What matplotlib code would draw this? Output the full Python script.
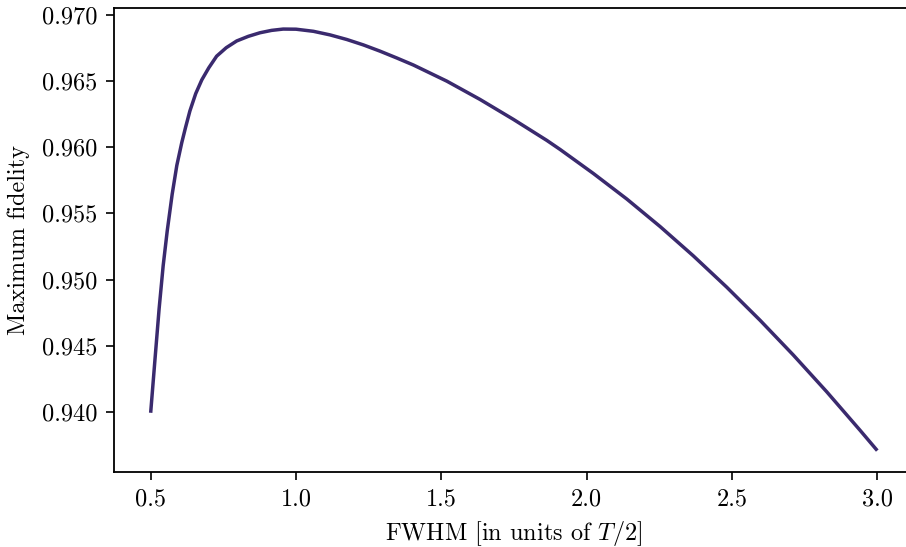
import numpy as np
import matplotlib
matplotlib.use("Agg")
import matplotlib.pyplot as plt

# Werte
fwhm = [0.500, 0.515, 0.529, 0.543, 0.557, 0.574, 0.590, 0.607, 0.620, 0.635,
        0.655, 0.676, 0.700, 0.727, 0.760, 0.796, 0.836, 0.876, 0.916, 0.956,
        1.000, 1.060, 1.117, 1.175, 1.232, 1.289, 1.346, 1.404, 1.519, 1.633,
        1.748, 1.863, 1.909, 2.023, 2.138, 2.253, 2.367, 2.482, 2.597, 2.711,
        2.826, 2.941, 3.000]
fidelity = [0.93992, 0.94400, 0.94777, 0.95104, 0.95368, 0.95645, 0.95863, 0.96035,
            0.96150, 0.96275, 0.96406, 0.96510, 0.96601, 0.96689, 0.96753, 0.96804,
            0.96839, 0.96866, 0.96884, 0.96894, 0.96893, 0.96877, 0.96850, 0.96815,
            0.96774, 0.96727, 0.96676, 0.96622, 0.96500, 0.96362, 0.96211, 0.96052,
            0.95983, 0.95802, 0.95609, 0.95400, 0.95179, 0.94942, 0.94691, 0.94429,
            0.94151, 0.93859, 0.93706]

plt.rcParams['font.family'] = 'cmr10'
plt.rcParams['mathtext.fontset'] = 'cm'
plt.rcParams['axes.formatter.use_mathtext'] = True
plt.rcParams['font.size'] = 17.5

fig = plt.figure(figsize=(9.06, 5.47), dpi=100)
ax = fig.add_axes([0.1262, 0.1377, 0.8822, 0.8477])

ax.plot(fwhm, fidelity, color='#3a2a6e', lw=2.5, solid_capstyle='butt',
        solid_joinstyle='round')

ax.set_xticks([0.5, 1.0, 1.5, 2.0, 2.5, 3.0])
ax.set_yticks([0.940, 0.945, 0.950, 0.955, 0.960, 0.965, 0.970])
ax.set_yticklabels(['0.940', '0.945', '0.950', '0.955', '0.960', '0.965', '0.970'])
ax.set_xticklabels(['0.5', '1.0', '1.5', '2.0', '2.5', '3.0'])

ax.tick_params(direction='out', length=6, width=1.2, top=False, right=False, pad=6)
for s in ax.spines.values():
    s.set_linewidth(1.3)

ax.set_xlabel(r'FWHM [in units of $T/2$]', labelpad=6)
ax.set_ylabel('Maximum fidelity', labelpad=9)

fig.savefig('out.png', dpi=100)
